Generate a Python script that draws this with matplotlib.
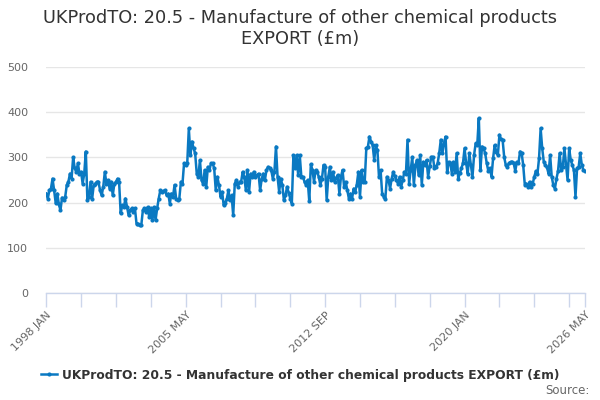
import matplotlib
matplotlib.use("Agg")
import matplotlib.pyplot as plt
import pandas as pd

title = "UKProdTO: 20.5 - Manufacture of other chemical products\nEXPORT (£m)"
series_name = "UKProdTO: 20.5 - Manufacture of other chemical products EXPORT (£m)"
start_month = "1998-01"
tick_labels = ["1998 JAN", "2005 MAY", "2012 SEP", "2020 JAN", "2026 MAY"]
y_ticks = [0, 100, 200, 300, 400, 500]

export_values = [
    220, 209, 227, 231, 253, 227, 199, 220, 196, 183, 211, 205,   # 1998
    213, 239, 246, 264, 253, 300, 276, 268, 287, 264, 268, 242,   # 1999
    264, 313, 205, 213, 246, 209, 239, 242, 246, 246, 227, 216,   # 2000
    235, 268, 242, 250, 231, 246, 216, 242, 246, 253, 246, 176,   # 2001
    194, 190, 209, 190, 172, 183, 187, 179, 187, 153, 153, 150,   # 2002
    150, 183, 187, 179, 190, 168, 187, 161, 190, 161, 187, 209,   # 2003
    227, 224, 225, 227, 216, 220, 198, 220, 213, 239, 209, 205,   # 2004
    209, 246, 242, 287, 283, 287, 364, 305, 335, 320, 309, 264,   # 2005
    257, 294, 250, 242, 272, 235, 279, 272, 287, 287, 276, 227,   # 2006
    257, 239, 213, 224, 194, 200, 209, 227, 205, 216, 172, 242,   # 2007
    250, 235, 246, 246, 268, 257, 227, 272, 224, 264, 257, 268,   # 2008
    257, 260, 264, 227, 253, 264, 250, 272, 279, 276, 272, 253,   # 2009
    268, 324, 257, 224, 253, 239, 205, 216, 235, 222, 209, 198,   # 2010
    305, 276, 305, 261, 305, 257, 257, 246, 239, 250, 203, 285,   # 2011
    272, 246, 272, 268, 257, 239, 253, 283, 279, 205, 257, 279,   # 2012
    250, 268, 246, 255, 261, 220, 257, 272, 235, 246, 227, 209,   # 2013
    220, 209, 231, 224, 240, 268, 213, 272, 246, 246, 320, 324,   # 2014
    346, 335, 327, 294, 327, 316, 257, 272, 220, 213, 209, 257,   # 2015
    250, 231, 253, 268, 258, 250, 242, 257, 235, 250, 268, 264,   # 2016
    339, 242, 272, 301, 239, 283, 294, 261, 305, 239, 290, 283,   # 2017
    294, 257, 280, 301, 301, 276, 279, 287, 309, 339, 309, 331,   # 2018
    346, 268, 290, 287, 264, 290, 268, 309, 253, 265, 276, 287,   # 2019
    320, 287, 264, 309, 283, 257, 305, 331, 327, 387, 272, 324,   # 2020
    320, 309, 287, 270, 276, 257, 298, 327, 313, 305, 350, 340,   # 2021
    339, 301, 283, 279, 287, 290, 290, 287, 270, 290, 287, 313,   # 2022
    310, 283, 240, 242, 235, 246, 235, 242, 257, 270, 264, 298,   # 2023
    364, 320, 290, 283, 278, 264, 305, 257, 239, 231, 253, 270,   # 2024
    309, 272, 279, 320, 285, 250, 320, 294, 283, 272, 213, 276,   # 2025
    279, 309, 283, 272, 270,                                      # 2026
]

dates = pd.period_range(start=start_month, periods=len(export_values), freq="M")
x = list(range(len(dates)))

line_color = "#0a79c2"
text_color = "#333333"
label_color = "#666666"

fig = plt.figure(figsize=(6, 4), dpi=100)
ax = fig.add_axes([0.077, 0.2675, 0.898, 0.565])

ax.plot(x, export_values, color=line_color, lw=1.8, marker="o", ms=3,
        markeredgewidth=0, label=series_name, solid_joinstyle="round")

ax.set_ylim(0, 500)
ax.set_xlim(0, len(x) - 1)
ax.set_yticks(y_ticks)
ax.set_yticklabels([str(v) for v in y_ticks], color=label_color, fontsize=8)
ax.grid(axis="y", color="#e6e6e6", lw=1)
ax.set_axisbelow(True)
ax.tick_params(axis="y", length=0, pad=13)

# x ticks: minor every 22 months, labels every 88 months, plus the final month
last = len(x) - 1
minor = list(range(0, last + 1, 22)) + [last]
major = list(range(0, last + 1, 88)) + [last]
ax.set_xticks(minor, minor=True)
ax.set_xticks(major)
ax.set_xticklabels(tick_labels, rotation=45, ha="right", va="top",
                   rotation_mode="anchor", color=label_color, fontsize=8)
ax.tick_params(axis="x", which="both", length=10, color="#ccd6eb", width=1,
               direction="out", pad=2)

for s in ["top", "right", "left"]:
    ax.spines[s].set_visible(False)
ax.spines["bottom"].set_color("#ccd6eb")
ax.spines["bottom"].set_linewidth(1)

fig.text(0.5, 0.978, title, ha="center", va="top", fontsize=12.8,
         color=text_color, linespacing=1.2)

leg = fig.legend(loc="center", bbox_to_anchor=(0.5, 0.0625), frameon=False,
                 handlelength=1.3, handletextpad=0.4,
                 prop={"size": 8.8, "weight": "bold"})
for t in leg.get_texts():
    t.set_color(text_color)

fig.text(0.982, 0.025, "Source:", ha="right", va="center", fontsize=8.5,
         color=label_color)

fig.savefig("out.png", dpi=100)
